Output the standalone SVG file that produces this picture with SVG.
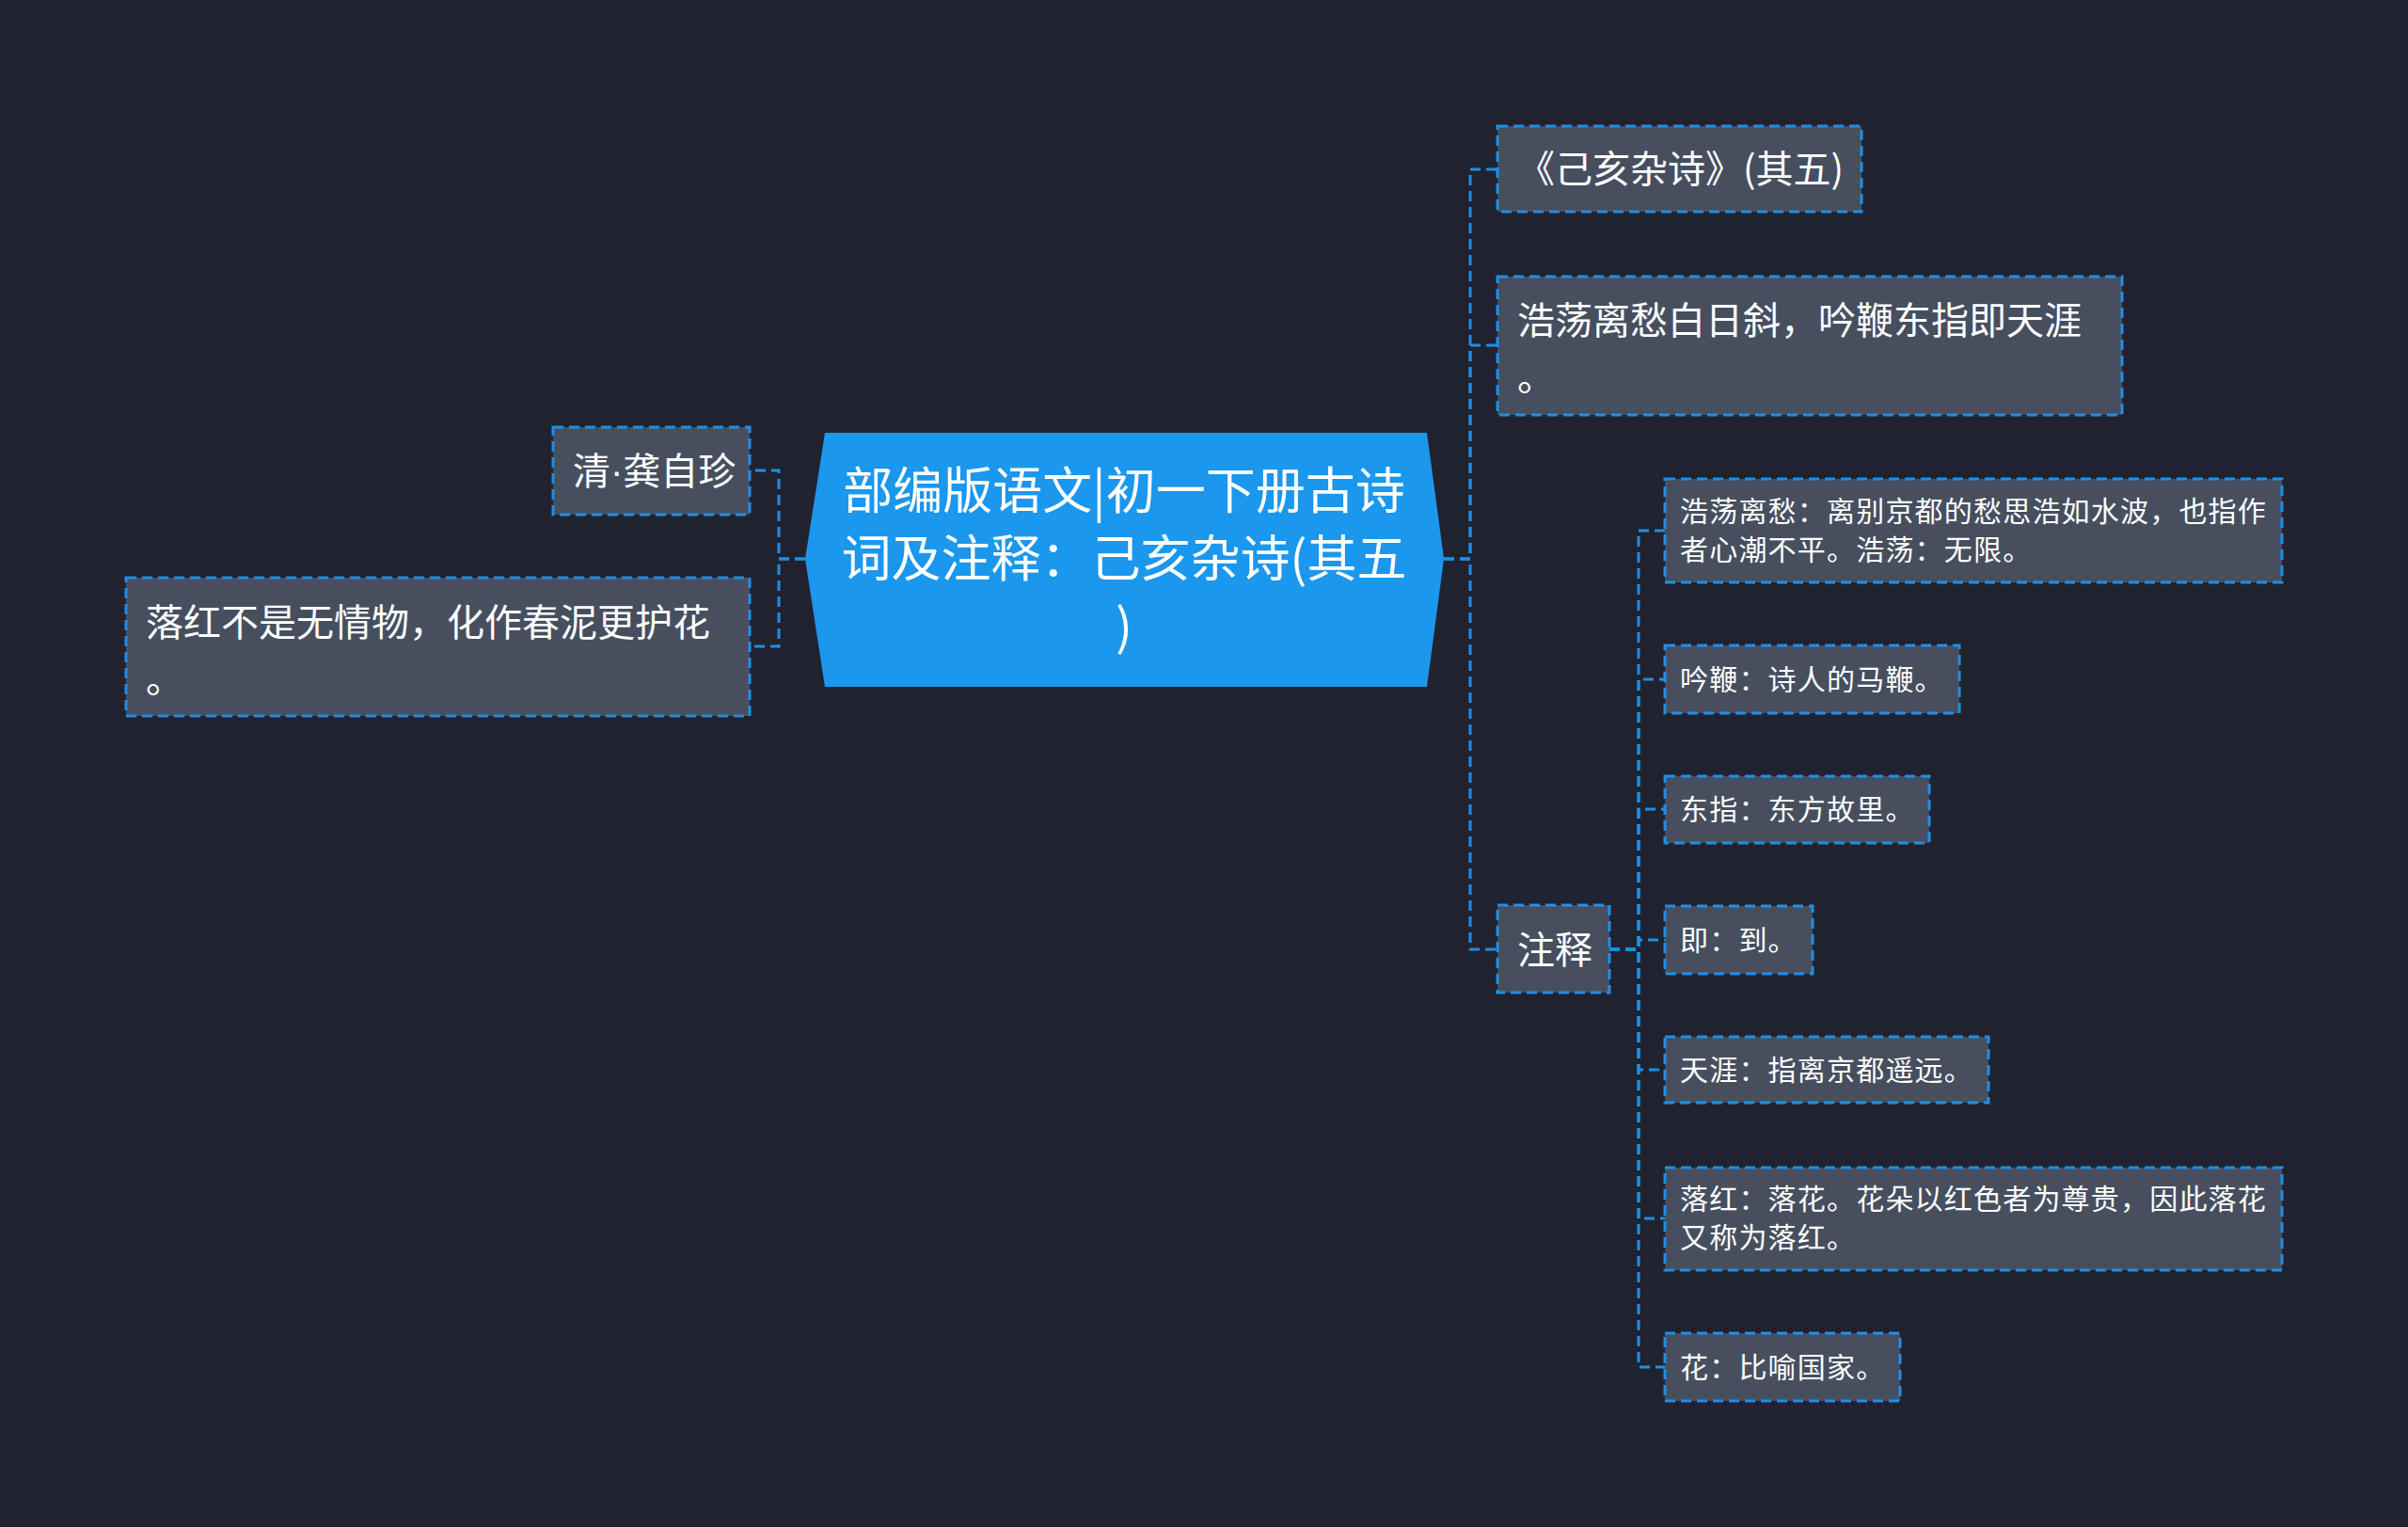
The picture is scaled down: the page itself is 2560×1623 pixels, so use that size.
<svg xmlns="http://www.w3.org/2000/svg" width="2560" height="1623" viewBox="0 0 2560 1623">
<style>
.bg{fill:#20232f}
.box{fill:#474f5f;stroke:#1d8fe6;stroke-width:3;stroke-dasharray:11 6}
.edge{fill:none;stroke:#1d8fe6;stroke-width:3;stroke-dasharray:11 6}
.t{font-family:"Noto Sans CJK SC","Noto Sans",sans-serif;fill:#ffffff}
.m{font-size:40px}
.s{font-size:30px;letter-spacing:1.2px}
.c{font-size:53px;text-anchor:middle}
.dot{font-family:"Liberation Sans",sans-serif}
</style>
<rect class="bg" x="0" y="0" width="2560" height="1623"/>
<g id="connectors">
<path class="edge" d="M1535 594 H1563 V180 H1592"/>
<path class="edge" d="M1535 594 H1563 V367 H1592"/>
<path class="edge" d="M1535 594 H1563 V1009 H1592"/>
<path class="edge" d="M856 594 H828 V500 H797"/>
<path class="edge" d="M856 594 H828 V687 H797"/>
<path class="edge" d="M1711 1009 H1742 V564 H1770"/>
<path class="edge" d="M1711 1009 H1742 V722 H1770"/>
<path class="edge" d="M1711 1009 H1742 V860 H1770"/>
<path class="edge" d="M1711 1009 H1742 V999 H1770"/>
<path class="edge" d="M1711 1009 H1742 V1137 H1770"/>
<path class="edge" d="M1711 1009 H1742 V1295 H1770"/>
<path class="edge" d="M1711 1009 H1742 V1453 H1770"/>
</g>
<g id="root">
<polygon points="877,460 1517,460 1535,594 1517,730 877,730 856,594" fill="#1b97ee"/>
<text class="t c" x="1195" y="541">部编版语文|初一下册古诗</text>
<text class="t c" x="1195" y="613">词及注释：己亥杂诗(其五</text>
<text class="t c" x="1195" y="685">)</text>
</g>
<g id="title">
<rect class="box" x="1592" y="134" width="387" height="91"/>
<text class="t m" x="1613" y="194">《己亥杂诗》(其五)</text>
</g>
<g id="line1">
<rect class="box" x="1592" y="294" width="664" height="147"/>
<text class="t m" x="1613" y="355">浩荡离愁白日斜，吟鞭东指即天涯</text>
<text class="t m" x="1613" y="415">。</text>
</g>
<g id="notes">
<rect class="box" x="1592" y="962" width="119" height="93"/>
<text class="t m" x="1613" y="1024">注释</text>
</g>
<g id="author">
<rect class="box" x="588" y="454" width="209" height="93"/>
<text class="t m" x="609" y="515">清<tspan class="dot">·</tspan>龚自珍</text>
</g>
<g id="line2">
<rect class="box" x="134" y="614" width="663" height="147"/>
<text class="t m" x="155" y="676">落红不是无情物，化作春泥更护花</text>
<text class="t m" x="155" y="736">。</text>
</g>
<g id="n1">
<rect class="box" x="1770" y="509" width="656" height="110"/>
<text class="t s" x="1786" y="554">浩荡离愁：离别京都的愁思浩如水波，也指作</text>
<text class="t s" x="1786" y="595">者心潮不平。浩荡：无限。</text>
</g>
<g id="n2">
<rect class="box" x="1770" y="686" width="313" height="72"/>
<text class="t s" x="1786" y="733">吟鞭：诗人的马鞭。</text>
</g>
<g id="n3">
<rect class="box" x="1770" y="825" width="281" height="71"/>
<text class="t s" x="1786" y="871">东指：东方故里。</text>
</g>
<g id="n4">
<rect class="box" x="1770" y="963" width="157" height="72"/>
<text class="t s" x="1786" y="1010">即：到。</text>
</g>
<g id="n5">
<rect class="box" x="1770" y="1102" width="344" height="70"/>
<text class="t s" x="1786" y="1148">天涯：指离京都遥远。</text>
</g>
<g id="n6">
<rect class="box" x="1770" y="1241" width="656" height="109"/>
<text class="t s" x="1786" y="1285">落红：落花。花朵以红色者为尊贵，因此落花</text>
<text class="t s" x="1786" y="1326">又称为落红。</text>
</g>
<g id="n7">
<rect class="box" x="1770" y="1417" width="250" height="72"/>
<text class="t s" x="1786" y="1464">花：比喻国家。</text>
</g>
</svg>
